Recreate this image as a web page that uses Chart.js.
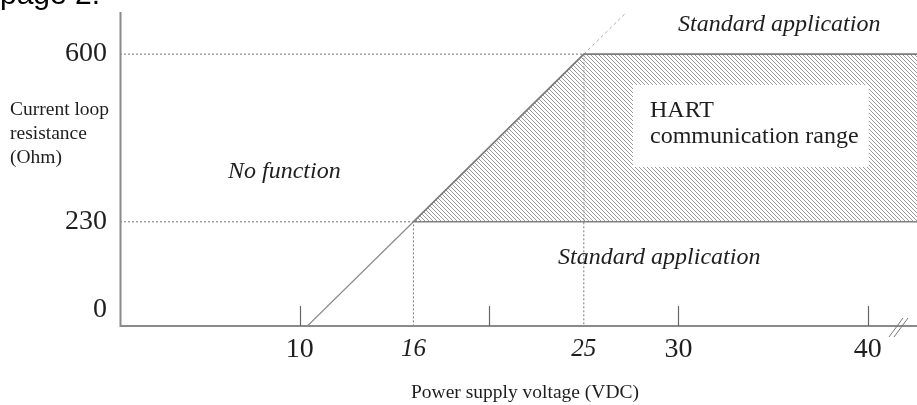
<!DOCTYPE html>
<html>
<head>
<meta charset="utf-8">
<script src="https://cdn.jsdelivr.net/npm/chart.js@4"></script>
<style>
html, body { margin: 0; padding: 0; background: #fff; }
#wrap { position: relative; width: 917px; height: 405px; }
</style>
</head>
<body>
<div id="wrap"><canvas id="hart" width="917" height="405"></canvas></div>
<script>
// axis ranges
const xMin = 0.5, xMax = 42.6;
const yMin = 0, yMax = 693;

// ticks
const axisTicks = [10, 20, 30, 40];
const axisTickLabels = ['10', '', '30', '40'];
const limitVoltages = [16, 25];
const resistanceTicks = [0, 230, 600];

// supply limit line (load vs. minimum voltage)
const loopVoltage = [10.4, 16, 25];
const loopResistance = [0, 230, 600];
const extensionVoltage = [25, 27.2];
const extensionResistance = [600, 690];

// HART range: top boundary, filled down to 230 Ohm
const hartMinResistance = 230;
const hartVoltage = [16, 25, xMax];
const hartResistance = [230, 600, 600];
const floorVoltage = [16, xMax];
const floorResistance = [230, 230];

// dotted helper lines
const guide600Voltage = [xMin, 25, 25];
const guide600Resistance = [600, 600, 0];
const guide230Voltage = [xMin, 16, 16];
const guide230Resistance = [230, 230, 0];

const pts = (xs, ys) => xs.map((x, i) => ({ x: x, y: ys[i] }));

function hatch() {
  const c = document.createElement('canvas');
  c.width = 4; c.height = 4;
  const g = c.getContext('2d');
  g.strokeStyle = '#9a9a9a';
  g.lineWidth = 1;
  g.beginPath();
  g.moveTo(-1, -1); g.lineTo(5, 5);
  g.moveTo(-1, 3); g.lineTo(1, 5);
  g.moveTo(3, -1); g.lineTo(5, 1);
  g.stroke();
  return g.createPattern(c, 'repeat');
}

const serif = '"Liberation Serif", "Times New Roman", serif';
const textColor = '#1e1e1e';

const decorations = {
  id: 'decorations',
  afterDraw(chart) {
    const { ctx, chartArea: a, scales: { x, y } } = chart;
    ctx.save();

    // white label box inside hatched area
    const bx0 = x.getPixelForValue(27.6), bx1 = x.getPixelForValue(40.05);
    const by0 = y.getPixelForValue(532), by1 = y.getPixelForValue(351);
    ctx.fillStyle = '#fff';
    ctx.fillRect(bx0, by0, bx1 - bx0, by1 - by0);

    // axes
    ctx.strokeStyle = '#8a8a8a';
    ctx.lineWidth = 2;
    ctx.beginPath();
    ctx.moveTo(a.left + 0.5, a.top);
    ctx.lineTo(a.left + 0.5, a.bottom);
    ctx.lineTo(a.right, a.bottom);
    ctx.stroke();

    // upward tick marks
    ctx.strokeStyle = '#666';
    ctx.lineWidth = 1.2;
    axisTicks.forEach(v => {
      const px = Math.round(x.getPixelForValue(v)) + 0.5;
      ctx.beginPath();
      ctx.moveTo(px, a.bottom);
      ctx.lineTo(px, a.bottom - 20);
      ctx.stroke();
    });

    // axis break mark
    ctx.strokeStyle = '#777';
    ctx.lineWidth = 1;
    [0, 5].forEach(d => {
      ctx.beginPath();
      ctx.moveTo(a.right - 28 + d, a.bottom + 11);
      ctx.lineTo(a.right - 14 + d, a.bottom - 8);
      ctx.stroke();
    });

    ctx.fillStyle = textColor;

    // y tick labels
    ctx.font = '28px ' + serif;
    ctx.textAlign = 'right';
    ctx.textBaseline = 'middle';
    resistanceTicks.forEach(v => {
      const py = Math.min(y.getPixelForValue(v), a.bottom - 16);
      ctx.fillText(String(v), a.left - 13, py);
    });

    // x tick labels
    ctx.textAlign = 'center';
    axisTicks.forEach((v, i) => {
      if (!axisTickLabels[i]) return;
      ctx.font = '28px ' + serif;
      ctx.fillText(axisTickLabels[i], x.getPixelForValue(v), a.bottom + 24);
    });
    limitVoltages.forEach(v => {
      ctx.font = 'italic 25px ' + serif;
      ctx.fillText(String(v), x.getPixelForValue(v), a.bottom + 23);
    });

    // axis titles
    ctx.textBaseline = 'alphabetic';
    ctx.font = '19.5px ' + serif;
    ctx.fillText('Power supply voltage (VDC)', 525, 398);
    ctx.textAlign = 'left';
    ctx.fillText('Current loop', 10, 115);
    ctx.fillText('resistance', 10, 139);
    ctx.fillText('(Ohm)', 10, 163);

    // region labels
    ctx.font = 'italic 24px ' + serif;
    ctx.fillText('Standard application', 678, 31);
    ctx.fillText('No function', 228, 178);
    ctx.fillText('Standard application', 558, 264);
    ctx.font = '24px ' + serif;
    ctx.fillText('HART', 650, 117);
    ctx.fillText('communication range', 650, 143);

    // page header cut off at the top
    ctx.fillStyle = '#000';
    ctx.font = '30px "Liberation Sans", Arial, sans-serif';
    ctx.fillText('page 2.', 0, 4);

    ctx.restore();
  }
};

const line = (data, extra) => Object.assign({
  data: data,
  showLine: true,
  pointRadius: 0,
  fill: false,
  borderColor: '#888',
  borderWidth: 1
}, extra);

new Chart(document.getElementById('hart').getContext('2d'), {
  type: 'scatter',
  data: {
    datasets: [
      line(pts(hartVoltage, hartResistance), {
        fill: { value: hartMinResistance },
        backgroundColor: hatch(),
        borderColor: '#7c7c7c',
        borderWidth: 1.6
      }),
      line(pts(floorVoltage, floorResistance), { borderColor: '#7c7c7c', borderWidth: 1.6 }),
      line(pts(loopVoltage, loopResistance), { borderColor: '#8a8a8a', borderWidth: 1.2 }),
      line(pts(extensionVoltage, extensionResistance), { borderColor: '#aaa', borderDash: [3, 3] }),
      line(pts(guide600Voltage, guide600Resistance), { borderColor: '#777', borderDash: [2, 2] }),
      line(pts(guide230Voltage, guide230Resistance), { borderColor: '#777', borderDash: [2, 2] })
    ]
  },
  options: {
    responsive: false,
    animation: false,
    layout: { padding: { left: 120, top: 12, right: 0, bottom: 79 } },
    plugins: { legend: { display: false }, tooltip: { enabled: false } },
    scales: {
      x: { type: 'linear', min: xMin, max: xMax, display: false },
      y: { type: 'linear', min: yMin, max: yMax, display: false }
    }
  },
  plugins: [decorations]
});
</script>
</body>
</html>
